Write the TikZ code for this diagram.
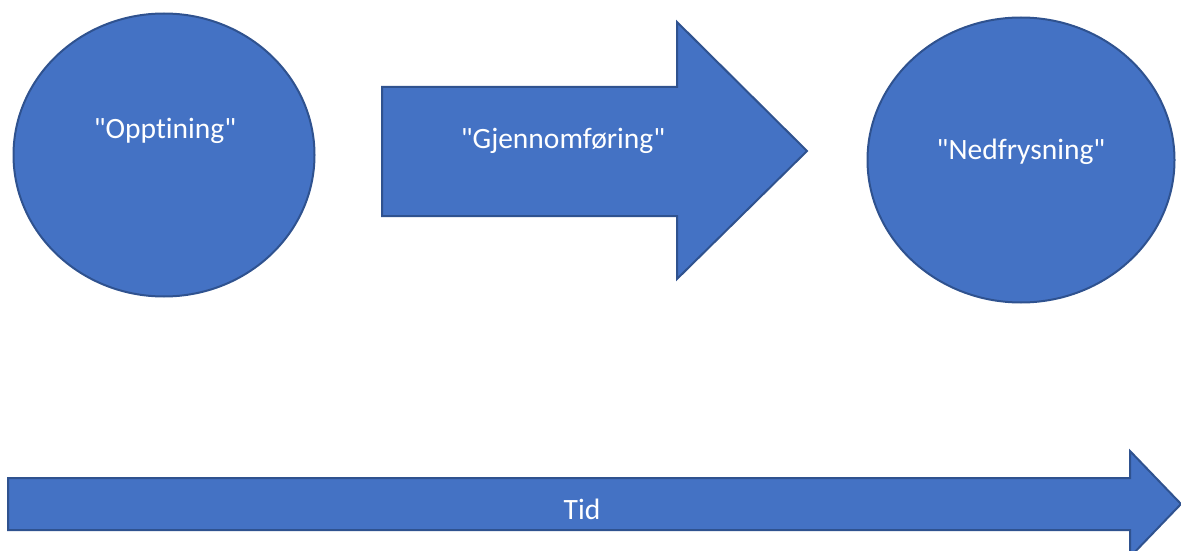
\documentclass[tikz,border=0pt]{standalone}
\usepackage{fontspec}
\newfontfamily\labelfont{Carlito}[Ligatures={NoCommon}]
\usetikzlibrary{shapes.geometric}
\definecolor{shapefill}{HTML}{4472C4}
\definecolor{shapeline}{HTML}{2F528F}
\tikzset{
  shapestyle/.style={fill=shapefill, draw=shapeline, line width=2pt, line join=miter},
  labeltext/.style={text=white, font=\labelfont\fontsize{29.5}{35}\selectfont, inner sep=0pt, anchor=center}
}
\begin{document}
\begin{tikzpicture}[x=1pt,y=-1pt]
\useasboundingbox (0,0) rectangle (1181,551);
% left circle
\node[shapestyle, ellipse, minimum width=301pt, minimum height=283pt, inner sep=0pt] (opp) at (164,155) {};
\node[labeltext] (opptxt) at (165,131) {"Opptining"};
% middle arrow
\draw[shapestyle] (382,87) coordinate (a1) -- (677,87) -- (677,22) -- (807,151) coordinate (a1tip) -- (677,279) -- (677,216) -- (382,216) -- cycle;
\node[labeltext] (gjtxt) at (563,141) {"Gjennomføring"};
% right ellipse
\node[shapestyle, ellipse, minimum width=307pt, minimum height=285pt, inner sep=0pt] (ned) at (1021,160) {};
\node[labeltext] (nedtxt) at (1021,152) {"Nedfrysning"};
% time arrow
\draw[shapestyle] (8,478) -- (1130,478) -- (1130,451) -- (1181,504) -- (1130,557) -- (1130,530) -- (8,530) -- cycle;
\node[labeltext] (tid) at (582,509) {Tid};
\end{tikzpicture}
\end{document}
